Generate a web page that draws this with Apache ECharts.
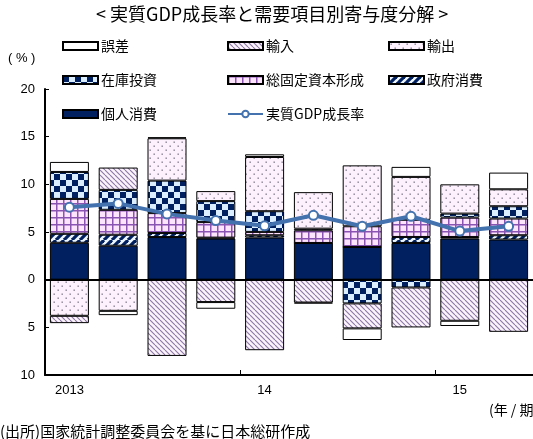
<!DOCTYPE html>
<html><head><meta charset="utf-8">
<script src="https://cdn.jsdelivr.net/npm/echarts@6/dist/echarts.min.js"></script>
<style>html,body{margin:0;padding:0;background:#fff}#c{width:533px;height:439px}</style>
</head><body><div id="c"></div>
<script>
const categories = ['2013','','','','14','','','','15',''];
const kojin    = [3.87, 3.56, 4.47, 4.31, 4.42, 3.85, 3.43, 3.85, 4.31, 4.21];
const seifu    = [0.94, 1.15, 0.42, 0.10, 0.24, 0.00, 0.00, 0.63, 0.17, 0.45];
const sokotei  = [3.66, 2.62, 2.09, 1.63, 0.35, 1.33, 2.17, 1.80, 2.03, 1.75];
const zaiko    = [2.83, 2.09, 3.41, 2.20, 2.17, 0.17, -2.49, -0.82, 0.42, 1.29];
const yushutsu = [-3.79, -3.27, 4.44, 1.05, 5.69, 3.83, 6.39, 4.50, 3.07, 1.78];
const yunyu    = [-0.77, 2.34, -8.00, -2.35, -7.40, -2.40, -2.62, -4.19, -4.31, -5.47];
const gosa     = [1.05, -0.45, 0.10, -0.70, 0.28, -0.10, -1.22, 1.05, -0.55, 1.75];
const gdp      = [7.6, 8.0, 6.9, 6.2, 5.65, 6.75, 5.6, 6.65, 5.1, 5.6];
const yTicks   = [-10, -5, 0, 5, 10, 15, 20];

function pat(w, h, draw) {
  const c = document.createElement('canvas');
  c.width = w; c.height = h;
  const g = c.getContext('2d');
  draw(g, w, h);
  return { image: c, repeat: 'repeat' };
}
const NAVY = '#00205F';
const pSeifu = pat(8, 8, (g) => {
  g.fillStyle = '#EEF6FF'; g.fillRect(0, 0, 8, 8);
  g.strokeStyle = NAVY; g.lineWidth = 3.2;
  for (const o of [-8, 0, 8]) { g.beginPath(); g.moveTo(o, 8); g.lineTo(o + 8, 0); g.stroke(); }
});
const pSokotei = pat(7, 7, (g) => {
  g.fillStyle = '#FCE4FC'; g.fillRect(0, 0, 7, 7);
  g.fillStyle = '#8A55B2'; g.fillRect(0, 0, 7, 1.5); g.fillRect(0, 0, 1.5, 7);
});
const pZaiko = pat(12, 12, (g) => {
  g.fillStyle = '#DAEEFF'; g.fillRect(0, 0, 12, 12);
  g.fillStyle = NAVY; g.fillRect(0, 0, 6, 6); g.fillRect(6, 6, 6, 6);
});
const pYushutsu = pat(8, 8, (g) => {
  g.fillStyle = '#FDF1FD'; g.fillRect(0, 0, 8, 8);
  g.fillStyle = '#85808F';
  g.fillRect(1.5, 1.5, 1.4, 1.4); g.fillRect(5.5, 5.5, 1.4, 1.4);
});
const pYunyu = pat(5, 5, (g) => {
  g.fillStyle = '#FBF4FB'; g.fillRect(0, 0, 5, 5);
  g.strokeStyle = '#8C76A6'; g.lineWidth = 1.1;
  for (const o of [-5, 0, 5]) { g.beginPath(); g.moveTo(o, 0); g.lineTo(o + 5, 5); g.stroke(); }
});

const CJK = '"Noto Sans CJK JP", "Liberation Sans", sans-serif';
const LAT = '"Liberation Sans", Arial, sans-serif';

function bar(name, data, color, extra) {
  return Object.assign({
    name, type: 'bar', stack: 'a', data, barWidth: 39,
    itemStyle: { color, borderColor: '#000', borderWidth: 1 },
    emphasis: { disabled: true }
  }, extra || {});
}

const chart = echarts.init(document.getElementById('c'), null, { renderer: 'canvas' });
const legendBase = {
  orient: 'vertical', itemWidth: 35, itemHeight: 8, itemGap: 20, padding: 0,
  textStyle: { fontFamily: CJK, fontSize: 14, color: '#000', padding: [0, 0, 0, -2] },
  selectedMode: false
};
chart.setOption({
  animation: false,
  title: {
    text: '< 実質GDP成長率と需要項目別寄与度分解 >', left: 96, top: 5, padding: 0,
    textStyle: { fontFamily: CJK, fontSize: 18, fontWeight: 'normal', color: '#000' }
  },
  legend: [
    Object.assign({}, legendBase, { left: 62, top: 39, data: [
      { name: '誤差', icon: 'rect' }, { name: '在庫投資', icon: 'rect' }, { name: '個人消費', icon: 'rect' }] }),
    Object.assign({}, legendBase, { left: 227, top: 39, data: [
      { name: '輸入', icon: 'rect' }, { name: '総固定資本形成', icon: 'rect' }, { name: '実質GDP成長率' }] }),
    Object.assign({}, legendBase, { left: 388, top: 39, data: [
      { name: '輸出', icon: 'rect' }, { name: '政府消費', icon: 'rect' }] })
  ],
  grid: { left: 45, right: 0, top: 89, bottom: 64 },
  xAxis: {
    type: 'category', data: categories,
    axisLine: { onZero: false, lineStyle: { color: '#000', width: 2 } },
    axisTick: { show: true, inside: true, length: 5, interval: (i) => i === 4 || i === 8, lineStyle: { color: '#000' } },
    axisLabel: { interval: 0, color: '#000', fontFamily: LAT, fontSize: 13, margin: 9 }
  },
  yAxis: {
    type: 'value', min: yTicks[0], max: yTicks[yTicks.length - 1], interval: 5,
    axisLine: { show: true, lineStyle: { color: '#000', width: 2 } },
    axisTick: { show: true, inside: true, length: 4, lineStyle: { color: '#000' } },
    axisLabel: { color: '#000', fontFamily: LAT, fontSize: 13, margin: 10, formatter: (v) => String(Math.abs(v)) },
    splitLine: { show: false }
  },
  series: [
    bar('個人消費', kojin, NAVY),
    bar('政府消費', seifu, pSeifu),
    bar('総固定資本形成', sokotei, pSokotei),
    bar('在庫投資', zaiko, pZaiko),
    bar('輸出', yushutsu, pYushutsu),
    bar('輸入', yunyu, pYunyu),
    bar('誤差', gosa, '#FFFFFF', {
      markLine: {
        silent: true, symbol: 'none', animation: false,
        label: { show: false },
        lineStyle: { color: '#000', width: 2, type: 'solid' },
        data: [{ yAxis: 0 }]
      }
    }),
    {
      name: '実質GDP成長率', type: 'line', data: gdp, z: 5,
      symbol: 'circle', symbolSize: 9,
      lineStyle: { color: '#4372AE', width: 4 },
      itemStyle: { color: '#FFFFFF', borderColor: '#4372AE', borderWidth: 2 },
      emphasis: { disabled: true }
    }
  ],
  graphic: [
    { type: 'text', left: 8, top: 52, style: { text: '( % )', font: '13px ' + LAT, fill: '#000' } },
    { type: 'text', left: 489, top: 403, style: { text: '(年 / 期)', font: '14px ' + CJK, fill: '#000' } },
    { type: 'text', left: 0, top: 424, style: { text: '(出所)国家統計調整委員会を基に日本総研作成', font: '15px ' + CJK, fill: '#000' } }
  ]
});
</script></body></html>
